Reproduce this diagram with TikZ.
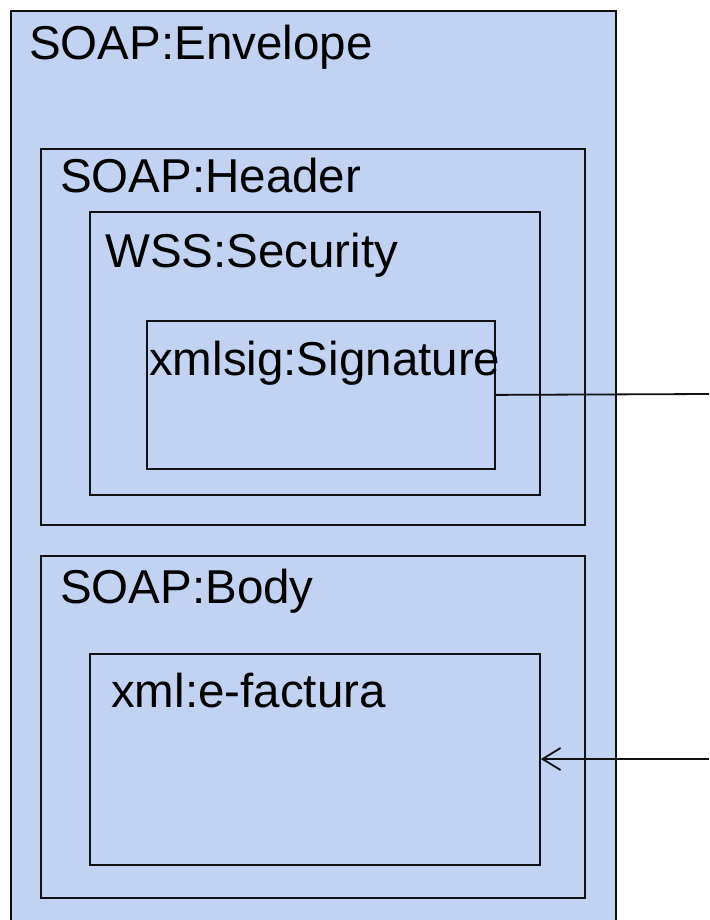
\documentclass[tikz,border=0pt]{standalone}
\usepackage{fontspec}
\setmainfont{Liberation Sans}
\usepackage{xcolor}
\definecolor{BoxFill}{HTML}{C2D2F3}
\definecolor{BoxLine}{HTML}{111111}
\usetikzlibrary{arrows.meta,positioning}
\tikzset{
  xmlbox/.style={
    draw=BoxLine,
    fill=BoxFill,
    line width=1.8pt,
    anchor=north west,
    inner sep=0pt
  },
  xmllabel/.style={
    anchor=base west,
    inner sep=0pt,
    font=\fontsize{47.5}{57}\selectfont
  },
  linkline/.style={
    line width=1.8pt,
    draw=BoxLine
  },
  linkarrow/.style={
    linkline,
    -{Straight Barb[length=18pt,width=22pt,line width=1.8pt]}
  }
}

\begin{document}
\begin{tikzpicture}[x=1pt,y=-1pt]
\useasboundingbox (0,0) rectangle (709,920);
\node[xmlbox, minimum width=605pt, minimum height=914pt] (envelope) at (10,10) {};
\node[xmlbox, minimum width=544pt, minimum height=376pt] (header) at (40,148) {};
\node[xmlbox, minimum width=450pt, minimum height=283pt] (security) at (89,211) {};
\node[xmlbox, minimum width=348pt, minimum height=148pt] (signature) at (146,320) {};
\node[xmlbox, minimum width=544pt, minimum height=342pt] (body) at (40,555) {};
\node[xmlbox, minimum width=450pt, minimum height=211pt] (factura) at (89,653) {};
\node[xmllabel] (envelopetxt) at (29,60) {SOAP:Envelope};
\node[xmllabel] (headertxt) at (60,193) {SOAP:Header};
\node[xmllabel] (securitytxt) at (105,267) {WSS:Security};
\node[xmllabel] (signaturetxt) at (149,375) {xmlsig:Signature};
\node[xmllabel] (bodytxt) at (60,603) {SOAP:Body};
\node[xmllabel] (facturatxt) at (111,707) {xml:e-factura};
\coordinate (sigout) at (709,394);
\coordinate (facin) at (709,759);
\draw[linkline] (signature.east) -- (sigout);
\draw[linkarrow] (facin) -- (factura.east |- facin);
\end{tikzpicture}
\end{document}
